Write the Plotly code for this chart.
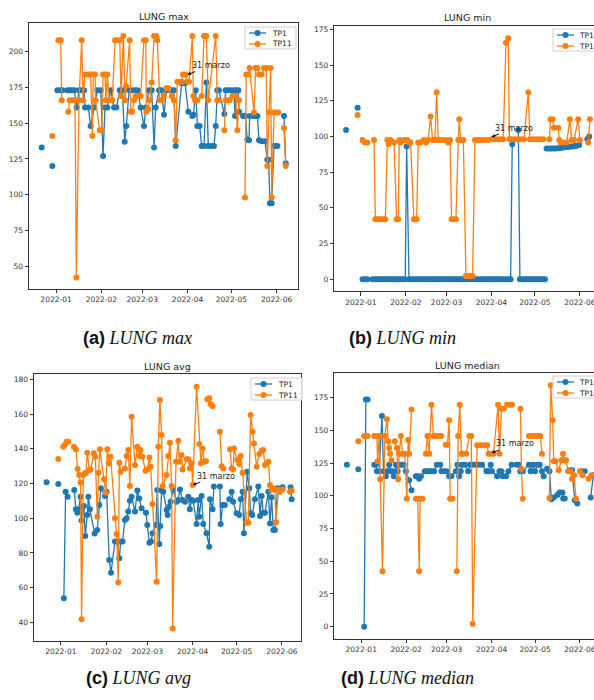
import pandas as pd
import plotly.graph_objects as go

BASE = pd.Timestamp("2022-01-01")
GAP = (None, None)

series_names = ["TP1", "TP11"]
series_colors = ["#1f77b4", "#ff7f0e"]
panel_titles = ["LUNG max", "LUNG min", "LUNG avg", "LUNG median"]
caption_labels = ["(a)", "(b)", "(c)", "(d)"]
caption_names = ["LUNG max", "LUNG min", "LUNG avg", "LUNG median"]
annotation_text = "31 marzo"
annotation_date = "2022-04-01"
annotation_values = [184, 99.6, 119.1, 132.7]

max_y_ticks = [50, 75, 100, 125, 150, 175, 200]
min_y_ticks = [0, 25, 50, 75, 100, 125, 150, 175]
avg_y_ticks = [40, 60, 80, 100, 120, 140, 160, 180]
median_y_ticks = [0, 25, 50, 75, 100, 125, 150, 175]

# (days since 2022-01-01, value)
max_tp1 = [(-9.8, 133), GAP, (-2.5, 120), GAP, (0.9, 173), (2.7, 173), (4.3, 173), (7.8, 173), (9.4, 173),
           (10.9, 173), (12.5, 173), (14.1, 161), (15.7, 173), (17.6, 173), (19.2, 173), (19.8, 161), (22.1, 161),
           (23.7, 148), (26.0, 161), (28.3, 173), (30.6, 173), (32.2, 127), (33.5, 161), (35.1, 161), (37.4, 173),
           (39.7, 161), (41.3, 161), (43.6, 173), (45.4, 173), (47.0, 137), (48.1, 148), (50.0, 173), (52.2, 173),
           (54.1, 173), (55.9, 173), (57.9, 161), (60.2, 148), (61.4, 161), (63.6, 173), (65.5, 173), (67.1, 133),
           (68.2, 161), (70.5, 173), (72.1, 173), (73.9, 156), (75.5, 173), (77.3, 173), (79.2, 173), (80.7, 173),
           (81.9, 134), (86.0, 178), (88.3, 178), (90.6, 158), (93.3, 155), (94.0, 156), (95.6, 173), (96.7, 148),
           (98.3, 148), (99.7, 134), (101.3, 134), (102.9, 178.5), (104.2, 134), (106.3, 134), (108.1, 134),
           (109.3, 148), (110.4, 173), (111.5, 173), (115.2, 156.5), (116.1, 173), (117.7, 173), (119.5, 173),
           (121.8, 173), (122.5, 155), (123.4, 173), (124.8, 173), (125.2, 158), (128.0, 155), (129.6, 155),
           (130.9, 138.4), (132.1, 138), (132.5, 155), (134.8, 155), (136.4, 155), (137.8, 155), (138.9, 138),
           (140.7, 137.4), (143.0, 137.4), (144.6, 124.4), (145.5, 124.4), (146.4, 94), (147.6, 94), (149.2, 134),
           (150.3, 134), (151.5, 134), GAP, (156.0, 155), (157.2, 122)]

max_tp11 = [(-2.5, 141), GAP, (1.6, 208), (3.2, 208), (3.9, 166), GAP, (8.4, 158), (9.4, 166), (11.2, 166),
            (13.0, 166), (13.9, 42), (15.7, 166), (17.6, 208), (18.5, 166), (19.8, 184), (22.1, 184), (23.7, 184),
            (24.9, 141), (25.5, 184), (26.7, 184), (27.1, 166), (29.9, 145), (31.3, 145), (32.2, 184), (33.5, 184),
            (34.2, 166), (35.1, 184), (36.3, 166), (38.5, 166), (40.4, 208), (42.0, 208), (43.6, 208), (44.5, 169),
            (46.1, 211), (47.2, 166), (47.9, 176), (50.4, 208), (51.1, 158), (52.2, 158), (53.4, 166), (54.5, 169),
            (55.7, 169), (56.8, 169), (57.9, 169), (60.2, 208), (61.4, 208), (61.8, 158), (63.2, 160), (64.1, 166),
            (65.5, 178.5), (67.1, 211), (68.7, 211), (69.3, 208), (71.0, 166), (72.3, 166), (73.9, 169),
            (75.5, 174.5), (76.9, 174.5), (79.2, 169), (80.7, 166), (81.9, 138), (83.0, 179), (84.6, 179),
            (86.0, 179), (86.9, 184), (88.7, 184), (89.9, 179), (91.0, 179), (93.3, 211), (94.0, 169), (95.1, 166),
            (96.7, 166), (99.7, 169), (101.3, 211), (102.9, 211), (104.2, 166), (109.3, 211), (110.4, 166),
            (111.5, 166), GAP, (115.2, 145), (116.1, 166), (117.7, 166), (118.8, 166), (120.7, 169), (121.8, 169),
            (122.9, 169), (124.1, 145), (125.2, 166), GAP, (129.3, 98), (130.2, 184), (131.6, 184), (132.5, 188.6),
            (135.5, 157.5), (136.6, 188.6), (137.8, 188.6), (138.9, 184), (140.7, 184), (142.3, 188.6),
            (143.9, 188.6), (144.6, 120), (145.8, 157.5), (146.9, 188.6), (147.6, 98), (149.2, 157.5),
            (150.6, 157.5), (152.1, 157.5), GAP, (156.0, 146.6), (157.2, 120)]

min_tp1 = [(-10.3, 104.5), GAP, (-2.3, 120), GAP, (1.1, 0), (2.8, 0), (4.4, 0), GAP, (8.0, 0), (9.5, 0), (11, 0),
           (12.5, 0), (14, 0), (15.5, 0), (17, 0), (18.5, 0), (20, 0), (21.5, 0), (23, 0), (24.5, 0), (26, 0),
           (27.5, 0), (29, 0), (30.5, 0), (31.5, 93), (33.1, 0), (34.5, 0), (36, 0), (37.5, 0), (39, 0), (40.5, 0),
           (42, 0), (43.5, 0), (45, 0), (46.5, 0), (48, 0), (49.5, 0), (51, 0), (52.5, 0), (54, 0), (55.5, 0),
           (57, 0), (58.5, 0), (60, 0), (61.5, 0), (63, 0), (64.5, 0), (66, 0), (67.5, 0), (69, 0), (70.5, 0),
           (72, 0), (73.5, 0), (75, 0), (76.5, 0), (78, 0), (79.5, 0), (81, 0), (82.5, 0), (84, 0), (85.5, 0),
           (87, 0), (88.5, 0), (90, 0), (91.5, 0), (93, 0), (94.5, 0), (96, 0), (97.5, 0), (99, 0), (100.5, 0),
           (102, 0), (103.2, 0), (104.3, 94.5), GAP, (108.5, 104.5), (109.6, 0), (111, 0), (112.5, 0), (114, 0),
           (115.5, 0), (117, 0), (118.5, 0), (120, 0), (121.5, 0), (123, 0), (124.5, 0), (126, 0), (126.9, 0), GAP,
           (128, 91.5), (129.5, 91.5), (131, 91.5), (132.5, 91.5), (134, 91.5), (135.5, 91.7), (137, 91.7),
           (138.5, 92), (140, 92.4), (141.5, 92.4), (143, 92.6), (144.5, 92.9), (146, 93), (147.5, 93.3),
           (149, 93.5), (150.5, 94), GAP, (156.1, 98), (157.4, 100)]

min_tp11 = [(-2.3, 115), GAP, (1.1, 97.5), (2.8, 95.7), (4.4, 95.7), GAP, (9.0, 97.5), (9.9, 42), (11.3, 42),
            (12.6, 42), (14.0, 42), (15.4, 42), (16.8, 42), (18.2, 97.5), (19.1, 94.7), (20.5, 97.5), (22.8, 95.7),
            (24.6, 42), (25.7, 42), (26.4, 97.5), (27.3, 95.7), (29.6, 97.5), (31.9, 97.5), (33.3, 95.7),
            (34.2, 95.7), (36.5, 42), (38.4, 42), (39.5, 95.7), (41.1, 95.7), (43.4, 97.5), (44.8, 95.7),
            (46.4, 97.5), (48.0, 114), (49.4, 97.5), (51.0, 97.5), (52.2, 131), (53.3, 97.5), (54.5, 97.5),
            (56.8, 97.5), (58.6, 97.5), (60.2, 95.7), (61.4, 97.5), (62.5, 42), (64.1, 42), (65.5, 42),
            (67.1, 97.5), (67.8, 112), (68.7, 97.5), (70.6, 97.5), (72.4, 2.3), (74.0, 2.3), (75.6, 2.3),
            (77.0, 2.3), (78.6, 97.5), (80.9, 97.5), (83.2, 97.5), (85.5, 97.5), (87.8, 97.5), (90.1, 98),
            (92.4, 98), (94.7, 98), (97.0, 98), (98.1, 98), (100.0, 165.6), (101.6, 168.7), (102.3, 98),
            (103.9, 98), (106.2, 98), (108.5, 98), (110.1, 98), (112.4, 98), (115.4, 131), (116.5, 98),
            (118.8, 98), (121.1, 98), (123.4, 98), (125.7, 98), GAP, (129.9, 98), (130.8, 112), (132.2, 112),
            (133.1, 106), (136.1, 106), (136.7, 97.5), (137.7, 95.7), (139.5, 95.7), (141.8, 95.7), (144.1, 112),
            (145.3, 97.5), (146.9, 97.5), (149.8, 112), (151.0, 97.5), GAP, (156.7, 95.7), (157.9, 112)]

avg_tp1 = [(-9.8, 120.7), GAP, (-1.8, 119.7), GAP, (2.0, 53.8), (3.2, 115.3), (4.6, 112.4), GAP, (9.1, 116.2),
           (10.2, 105.1), (11.2, 103.2), (12.1, 105.1), (13.4, 112.4), (14.1, 98.6), (15.7, 107), (16.6, 89.7),
           (18.0, 101.8), (18.7, 112.4), (19.8, 105.1), (23.0, 91.2), (24.8, 93.2), (26.2, 107.6), (27.3, 117.2),
           (30.1, 112.8), (31.2, 115.3), (33.0, 75.9), (34.2, 68.6), (36.9, 86.5), (38.5, 86.5), (39.9, 76.9),
           (40.8, 86.5), (42.1, 86.5), (43.7, 99), (44.9, 99.9), (46.0, 103.8), (47.1, 110.1), (48.3, 112.4),
           (50.6, 103.8), (52.2, 115.9), (53.5, 111.4), (55.1, 105.7), (58.1, 103.2), (59.0, 96.1), (60.4, 85.9),
           (61.5, 86.5), (62.6, 91.3), (64.9, 96.1), (65.8, 116.2), (67.2, 85.1), (67.9, 95.5), (68.8, 115.9),
           (69.9, 115.3), (72.2, 104.7), (72.9, 101.8), (74.0, 106.6), (74.9, 109.5), (76.7, 116.2), (79.0, 109.5),
           (80.2, 110.5), (81.3, 116.6), (83.1, 110.5), (84.7, 109.5), (87.0, 112.4), (88.1, 105.1), (89.3, 110.5),
           (90.4, 110.1), (92.7, 96.7), (93.8, 110.5), (94.5, 100.9), (96.1, 112.8), (97.2, 96.7), (99.5, 91.3),
           (101.3, 83.6), (101.8, 110.9), (103.6, 105.1), (104.5, 118.2), GAP, (108.6, 118.2), (109.1, 96.7),
           (110.5, 107.6), (112.0, 107.6), GAP, (115.0, 110.9), (116.6, 115.3), (117.7, 109.5), (120.0, 102.8),
           (121.8, 101.8), (122.8, 110.9), (124.1, 115.3), (125.0, 91.3), (127.3, 126.8), (128.7, 117.2),
           (129.6, 102.8), (130.7, 101.8), (132.5, 110.9), (134.8, 118.2), (136.0, 101.3), (137.1, 112.8),
           (138.2, 103.2), (139.4, 103.2), (141.7, 115.3), (142.8, 97), (143.9, 112), (145.1, 93.2), (146.2, 93.2),
           (148.0, 117.2), (151.4, 117.8), GAP, (156.9, 117.8), (157.6, 110.9)]

avg_tp11 = [(-1.8, 134.1), GAP, (1.6, 141.2), (2.7, 142.2), (3.9, 144.1), (5.0, 144.1), GAP, (8.9, 141.2),
            (10.2, 139.7), (11.4, 128.3), (12.5, 124.9), (13.4, 120.5), (14.1, 41.7), (15.3, 124.9), (16.4, 125.8),
            (17.1, 126.2), (18.0, 137.7), (19.4, 127.8), (20.3, 128.1), (22.5, 137.4), (23.5, 135.4), (24.8, 100.9),
            (25.7, 126.2), (26.6, 139.7), (29.4, 122.4), (30.7, 114.7), (31.7, 139.7), (32.8, 131.6), (33.9, 135.4),
            (36.9, 99.9), (38.0, 90.9), (39.2, 62.9), (39.9, 132), (40.8, 126.8), (43.7, 128.7), (44.9, 135.8),
            (46.0, 139.3), (47.1, 118.5), (48.3, 158.5), (50.6, 130.6), (52.2, 141.2), (53.5, 135.8), (54.4, 139.3),
            (55.6, 135.4), (57.8, 127.4), (59.0, 128.1), (60.4, 135), (61.3, 129.7), (62.6, 108.2), (65.4, 63.4),
            (66.5, 141.2), (67.6, 168.1), (68.8, 147.9), (69.5, 118.5), (72.2, 124.9), (73.3, 135.8), (74.5, 143.5),
            (75.6, 118.5), (76.3, 36.5), (78.6, 132.6), (80.2, 144.7), (80.8, 132.6), (82.4, 136.4), (83.1, 128.1),
            (85.9, 133.9), (87.0, 133.9), (88.1, 128.7), (89.2, 131.6), (90.0, 119.1), (92.7, 175.8), (94.5, 142.7),
            (95.6, 131.6), (96.8, 140.2), (97.9, 132.6), (99.1, 132.8), GAP, (100.0, 168.5), (101.3, 169.1),
            (102.3, 165.8), (103.6, 164.6), GAP, (108.6, 149.8), (109.8, 130), (110.9, 128.7), GAP, (115.5, 139.7),
            (116.6, 128.7), (117.7, 128.1), (118.2, 140.2), (120.5, 133.5), (121.8, 131.2), (122.8, 135.8),
            (124.1, 126.2), (126.9, 97.4), (128.0, 97.4), (129.6, 159.4), (131.0, 149.8), (131.9, 143.1),
            (133.7, 129.7), (135.5, 137), (137.1, 138.9), (138.2, 139.3), (139.4, 130.6), (141.7, 132.6),
            (142.8, 119.1), (143.9, 116.2), (145.5, 117.2), (146.2, 116.6), (146.9, 97.6), (148.5, 116.2),
            (149.6, 115.3), (151.4, 116.6), GAP, (156.5, 115.3), (157.6, 115.9)]

median_tp1 = [(-9.9, 123.8), GAP, (-2.0, 120.2), GAP, (2.0, 0), (3.2, 173.5), (4.4, 173.5), GAP, (9.0, 123.8),
              (10.1, 123.8), (10.8, 118.7), (12.4, 118.7), (14.3, 161), (15.4, 118.7), (17.0, 115), (18.1, 118.7),
              (19.3, 123.8), (20.4, 118.7), (21.6, 118.7), (22.5, 115), (23.9, 123.8), (25.1, 118.7), (26.2, 123.8),
              (27.8, 123.8), (29.4, 123.8), (30.8, 118.7), (33.1, 111.8), (34.7, 104.2), GAP, (37.7, 115),
              (38.9, 115), (40.0, 113), (41.2, 115), (43.9, 118.7), (45.3, 118.7), (46.9, 118.7), (48.5, 118.7),
              (50.3, 118.7), (52.2, 123.8), (54.5, 123.8), (55.4, 118.7), (57.2, 118.7), (59.1, 118.7), (60.7, 115),
              (62.3, 115), (65.3, 118.7), (66.4, 123.8), (67.6, 115), (68.7, 118.7), (69.7, 123.8), (71.5, 123.8),
              (73.8, 118.7), (75.0, 123.8), (77.0, 123.8), (79.0, 123.8), (81.2, 123.8), (83.4, 123.8),
              (86.4, 118.7), (87.5, 118.7), (89.4, 123.8), (90.3, 118.7), (93.8, 115), (95.4, 118.7), (96.8, 118.7),
              (97.7, 115), (100.0, 115), (101.6, 118.7), (103.8, 123.8), GAP, (107.3, 123.8), (108.9, 123.8),
              (109.8, 118.7), (111.5, 118.7), (115.8, 123.8), (117.0, 118.7), (118.6, 123.8), (120.0, 118.7),
              (121.6, 123.8), (123.2, 123.8), (124.8, 118.7), (126.0, 115), GAP, (128.3, 120.7), (129.9, 118.7),
              (131.3, 97.4), (132.9, 98.6), (135.4, 100.6), (137.0, 102.6), (138.9, 102.6), (139.4, 97.9),
              (140.5, 97.9), GAP, (144.2, 119.5), (145.5, 119.5), (147.4, 96.6), (149.2, 94.1), GAP, (152.0, 118.7),
              (154.3, 118.7), GAP, (158.4, 98.6), (160.2, 115.7)]

median_tp11 = [(-2.0, 141.6), GAP, (2.0, 145.7), (3.2, 145.7), (4.4, 145.7), GAP, (9.0, 145.7), (10.8, 145.7),
               (11.3, 126.3), (12.4, 145.7), (13.1, 112.6), (14.7, 42.3), (16.3, 145.7), (17.7, 158.4),
               (18.6, 141.6), (19.3, 136.5), (20.0, 132.2), (20.9, 127.2), GAP, (23.2, 141.6), (24.6, 136.5),
               (25.5, 112.6), (26.2, 132.2), (27.4, 145.7), (28.5, 132.2), (30.1, 132.2), (31.5, 97.8),
               (32.4, 142.7), (33.1, 132.2), (34.7, 166), GAP, (37.7, 97.8), (39.0, 97.8), (40.0, 42.3),
               (40.7, 97.8), (42.3, 97.8), GAP, (44.6, 132.2), (45.7, 145.7), (46.9, 132.2), (48.5, 169.6),
               (49.9, 145.7), (51.5, 145.7), (53.3, 145.7), (55.2, 145.7), GAP, (58.4, 139), (59.5, 139),
               (60.7, 157.7), (61.4, 97.8), (63.0, 97.8), GAP, (66.0, 42.3), (66.9, 145.7), (68.0, 169.6),
               (69.2, 132.2), (69.9, 132.2), (72.4, 132.2), (74.7, 145.7), (76.0, 145.7), (77.0, 2.3), (80.0, 138.6),
               (82.3, 138.6), (84.6, 138.6), (86.9, 138.6), (88.0, 132.2), (89.7, 132.2), (91.3, 132.2),
               (94.5, 169.6), (95.4, 132.2), (96.8, 166.5), (98.4, 166.5), (100.7, 169.6), (102.3, 169.6),
               (104.1, 169.6), GAP, (109.9, 166.5), (110.6, 120.7), (111.5, 97.8), GAP, (115.8, 145.7),
               (117.0, 145.7), (118.6, 145.7), (120.2, 145.7), (121.8, 145.7), (123.7, 145.7), (124.8, 132.2), GAP,
               (129.9, 98.3), (130.8, 184.4), (132.2, 157.7), (132.9, 126.3), (134.0, 126.3), (136.3, 119.5),
               (138.2, 127.2), (139.3, 132.2), (140.5, 127.2), (141.4, 127.2), (142.8, 118.7), (144.5, 118.7),
               (145.5, 113), (147.0, 115.7), (148.3, 97.8), GAP, (151.0, 118.7), (152.9, 115.7), GAP, (157.0, 113),
               (158.9, 115.7)]

panel_series = [(max_tp1, max_tp11), (min_tp1, min_tp11), (avg_tp1, avg_tp11), (median_tp1, median_tp11)]
panel_yticks = [max_y_ticks, min_y_ticks, avg_y_ticks, median_y_ticks]

# ---- layout geometry (pixels of the 594x700 page) ----
W, H = 594, 700
geom = [
    dict(x0=29, x1=298, y0=23.3, y1=288.7, d0=-18.5, d1=165.6, yr=(34.2, 219.9), right=True,
         tx=163.5, ty=16, lg=(245, 27), lgt=25, cap=(137, 338)),
    dict(x0=334.3, x1=594, y0=26, y1=291, d0=-18.4, d1=160.7, yr=(-8.2, 177.3), right=False,
         tx=467.5, ty=18, lg=(553, 29), lgt=24, cap=(402, 338)),
    dict(x0=34, x1=301, y0=374, y1=640.7, d0=-18.4, d1=164.0, yr=(29.4, 183.1), right=True,
         tx=167.5, ty=367, lg=(251, 378), lgt=25, cap=(138, 678)),
    dict(x0=334.3, x1=594, y0=373.3, y1=638.7, d0=-18.6, d1=160.7, yr=(-9.2, 193.6), right=False,
         tx=467.5, ty=365, lg=(553, 376), lgt=24, cap=(407, 678)),
]
LG_W, LG_H = 51, 22


def fx(p):
    return p / W


def fy(p):
    return 1 - p / H


def to_dates(pairs):
    xs, ys = [], []
    for d, v in pairs:
        if d is None:
            xs.append(None)
            ys.append(None)
        else:
            xs.append(BASE + pd.to_timedelta(d, unit="D"))
            ys.append(v)
    return xs, ys


FONT = "DejaVu Sans"
AX = "#333333"
fig = go.Figure()
layout = dict(width=W, height=H, margin=dict(l=0, r=0, t=0, b=0, autoexpand=False),
              paper_bgcolor="white", plot_bgcolor="white", showlegend=False,
              font=dict(family=FONT, color="#222"))
annotations = []
shapes = []

for i, (g, pair, yt) in enumerate(zip(geom, panel_series, panel_yticks)):
    n = "" if i == 0 else str(i + 1)
    for s, (name, color) in enumerate(zip(series_names, series_colors)):
        xs, ys = to_dates(pair[s])
        fig.add_trace(go.Scatter(
            x=xs, y=ys, mode="lines+markers", name=name,
            xaxis="x" + n, yaxis="y" + n, connectgaps=False, cliponaxis=True,
            line=dict(color=color, width=1.3), marker=dict(color=color, size=6),
        ))
    layout["xaxis" + n] = dict(
        type="date", domain=[fx(g["x0"]), fx(g["x1"])], anchor="y" + n,
        range=[BASE + pd.to_timedelta(g["d0"], unit="D"), BASE + pd.to_timedelta(g["d1"], unit="D")],
        tick0="2022-01-01", dtick="M1", tickformat="%Y-%m", ticks="outside", ticklen=3.5,
        tickcolor=AX, tickwidth=0.8, showline=True, linecolor=AX, linewidth=1, mirror=True,
        showgrid=False, zeroline=False, ticklabeloverflow="allow",
        tickfont=dict(size=7.5, color="#333", family=FONT),
    )
    layout["yaxis" + n] = dict(
        domain=[fy(g["y1"]), fy(g["y0"])], anchor="x" + n, range=list(g["yr"]),
        tickvals=yt, ticks="outside", ticklen=3.5, tickcolor=AX, tickwidth=0.8,
        showline=True, linecolor=AX, linewidth=1, mirror=g["right"],
        showgrid=False, zeroline=False, tickfont=dict(size=7.5, color="#333", family=FONT),
    )

    # legend box (matplotlib-style, upper right inside the axes)
    lx, ly = g["lg"]
    shapes.append(dict(type="rect", xref="paper", yref="paper", layer="above",
                       x0=fx(lx), x1=fx(lx + LG_W), y0=fy(ly + LG_H), y1=fy(ly),
                       line=dict(color="#d0d0d0", width=1), fillcolor="rgba(255,255,255,0.85)"))
    for s, (name, color) in enumerate(zip(series_names, series_colors)):
        ry = ly + 6 + 11 * s
        shapes.append(dict(type="line", xref="paper", yref="paper", layer="above",
                           x0=fx(lx + 4), x1=fx(lx + 21), y0=fy(ry), y1=fy(ry),
                           line=dict(color=color, width=1.3)))
        shapes.append(dict(type="circle", xref="paper", yref="paper", layer="above",
                           x0=fx(lx + 9.5), x1=fx(lx + 15.5), y0=fy(ry + 3), y1=fy(ry - 3),
                           line=dict(color=color, width=0), fillcolor=color))
        annotations.append(dict(xref="paper", yref="paper", x=fx(lx + g["lgt"]), y=fy(ry), text=name,
                                showarrow=False, xanchor="left", yanchor="middle",
                                font=dict(size=7.5, family=FONT, color="#222")))

    # panel title
    annotations.append(dict(
        xref="paper", yref="paper", x=fx(g["tx"]), y=fy(g["ty"]), text=panel_titles[i],
        showarrow=False, xanchor="center", yanchor="middle",
        font=dict(size=9.5, family=FONT, color="#222"),
    ))
    # 31 marzo annotation
    annotations.append(dict(
        xref="x" + n, yref="y" + n, x=annotation_date, y=annotation_values[i],
        text=annotation_text, showarrow=True, ax=23, ay=-9, arrowhead=2, arrowsize=0.7,
        arrowwidth=1, arrowcolor="#111", font=dict(size=8, family=FONT, color="#222"),
    ))
    # caption under the panel
    annotations.append(dict(
        xref="paper", yref="paper", x=fx(g["cap"][0]), y=fy(g["cap"][1]),
        text=(f'<span style="font-family:Liberation Sans;font-weight:bold">{caption_labels[i]}</span> '
              f'<span style="font-family:Liberation Serif;font-style:italic">{caption_names[i]}</span>'),
        showarrow=False, xanchor="center", yanchor="middle",
        font=dict(size=18, family="Liberation Serif", color="#111"),
    ))

layout["annotations"] = annotations
layout["shapes"] = shapes
fig.update_layout(**layout)
fig.write_html("out.html")
